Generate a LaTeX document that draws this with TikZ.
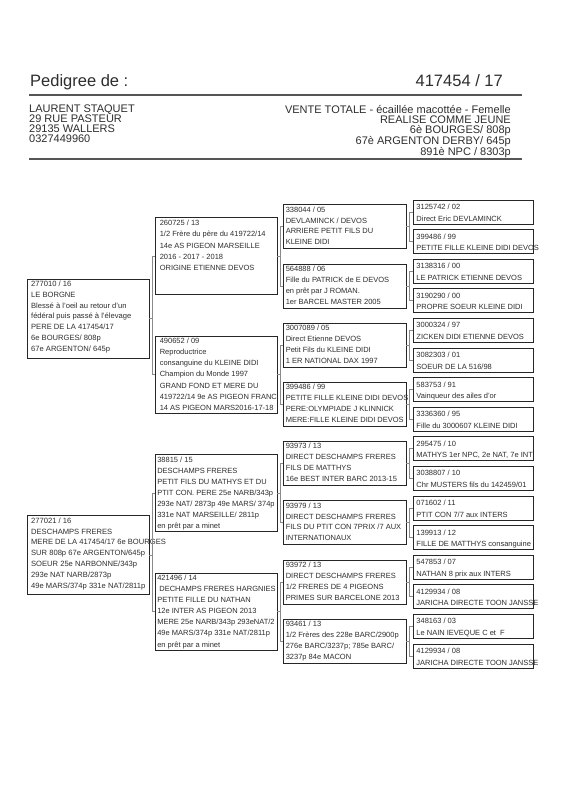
\documentclass[tikz,border=0pt]{standalone}
\usepackage{fontspec}
\setmainfont{Liberation Sans}
\definecolor{boxc}{HTML}{262626}
\definecolor{txtc}{HTML}{2E2E2E}
\definecolor{linkc}{HTML}{8A8A8A}
\definecolor{rulec}{HTML}{555555}
\tikzset{
  boxbase/.style={draw=boxc, line width=0.9pt, inner sep=0pt, rectangle},
  gone/.style={boxbase, minimum width=122pt, minimum height=79pt},
  gtwo/.style={boxbase, minimum width=122pt, minimum height=77pt},
  gthree/.style={boxbase, minimum width=123pt, minimum height=44pt},
  gfour/.style={boxbase, minimum width=120pt, minimum height=24pt},
  txt/.style={anchor=north west, inner sep=0pt, align=left, text=txtc},
  tone/.style={txt, font=\fontsize{7.6}{10.85}\selectfont},
  ttwo/.style={txt, font=\fontsize{7.5}{11.1}\selectfont},
  tthree/.style={txt, font=\fontsize{7.5}{10.9}\selectfont},
  tfour/.style={txt, font=\fontsize{7.5}{11.5}\selectfont},
  link/.style={draw=linkc, line width=1pt},
  hrule/.style={draw=rulec, line width=1.1pt},
  headtxt/.style={inner sep=0pt, text=txtc, font=\fontsize{11}{10}\selectfont},
  titletxt/.style={inner sep=0pt, text=txtc, font=\fontsize{16.5}{18}\selectfont},
}
\begin{document}
\begin{tikzpicture}[x=1pt,y=-1pt]
\useasboundingbox[fill=white] (0,0) rectangle (566,800);

% ---------- header ----------
\node[titletxt, anchor=base west] (title) at (30,86) {Pedigree de :};
\node[titletxt, anchor=base east] (ring) at (503,86) {417454 / 17};
\coordinate (ra) at (29,95); \coordinate (rb) at (522,95);
\coordinate (rc) at (29,159); \coordinate (rd) at (522,159);
\draw[hrule] (ra) -- (rb);
\draw[hrule] (rc) -- (rd);
\node[headtxt, anchor=north west, align=left] (owner) at (29,105.1)
  {LAURENT STAQUET\\29 RUE PASTEUR\\29135 WALLERS\\0327449960};
\node[headtxt, anchor=north east, align=right] (info) at (511,104.9)
  {VENTE TOTALE - écaillée macottée - Femelle\\REALISE COMME JEUNE\\6è BOURGES/ 808p\\67è ARGENTON DERBY/ 645p\\891è NPC / 8303p};

% ---------- generation 1 ----------
\node[gone] (a0) at (88,318.6) {};
\node[gone] (a1) at (88,555.4) {};
\node[tone] (a0t) at ([xshift=4.4pt,yshift=-2pt]a0.north west)
  {277010 / 16\\LE BORGNE\\Blessé à l'oeil au retour d'un\\fédéral puis passé à l'élevage\\PERE DE LA 417454/17\\6e BOURGES/ 808p\\67e ARGENTON/ 645p};
\node[tone] (a1t) at ([xshift=4.4pt,yshift=-2pt]a1.north west)
  {277021 / 16\\DESCHAMPS FRERES\\MERE DE LA 417454/17 6e BOURGES\\SUR 808p 67e ARGENTON/645p\\SOEUR 25e NARBONNE/343p\\293e NAT NARB/2873p\\49e MARS/374p 331e NAT/2811p};

% ---------- generation 2 ----------
\node[gtwo] (b0) at (216,256.4) {};
\node[gtwo] (b1) at (216,374.8) {};
\node[gtwo] (b2) at (216,493.2) {};
\node[gtwo] (b3) at (216,611.6) {};
\node[ttwo] (b0t) at ([xshift=5pt,yshift=-2.8pt]b0.north west)
  {260725 / 13\\1/2 Frère du père du 419722/14\\14e AS PIGEON MARSEILLE\\2016 - 2017 - 2018\\ORIGINE ETIENNE DEVOS};
\node[ttwo] (b1t) at ([xshift=5pt,yshift=-2.2pt]b1.north west)
  {490652 / 09\\Reproductrice\\consanguine du KLEINE DIDI\\Champion du Monde 1997\\GRAND FOND ET MERE DU\\419722/14 9e AS PIGEON FRANC\\14 AS PIGEON MARS2016-17-18};
\node[ttwo] (b2t) at ([xshift=2.5pt,yshift=-2.2pt]b2.north west)
  {38815 / 15\\DESCHAMPS FRERES\\PETIT FILS DU MATHYS ET DU\\PTIT CON. PERE 25e NARB/343p\\293e NAT/ 2873p 49e MARS/ 374p\\331e NAT MARSEILLE/ 2811p\\en prêt par a minet};
\node[ttwo] (b3t) at ([xshift=2.5pt,yshift=-2.2pt]b3.north west)
  {421496 / 14\\\ DECHAMPS FRERES HARGNIES\\PETITE FILLE DU NATHAN\\12e INTER AS PIGEON 2013\\MERE 25e NARB/343p 293eNAT/2\\49e MARS/374p 331e NAT/2811p\\en prêt par a minet};

% ---------- generation 3 ----------
\node[gthree] (c0) at (344.5,226.8) {};
\node[gthree] (c1) at (344.5,286.0) {};
\node[gthree] (c2) at (344.5,345.2) {};
\node[gthree] (c3) at (344.5,404.4) {};
\node[gthree] (c4) at (344.5,463.6) {};
\node[gthree] (c5) at (344.5,522.8) {};
\node[gthree] (c6) at (344.5,582.0) {};
\node[gthree] (c7) at (344.5,641.2) {};
\tikzset{threepos/.style={xshift=3pt,yshift=-2.2pt}}
\node[tthree] (c0t) at ([threepos]c0.north west)
  {338044 / 05\\DEVLAMINCK / DEVOS\\ARRIERE PETIT FILS DU\\KLEINE DIDI};
\node[tthree] (c1t) at ([threepos]c1.north west)
  {564888 / 06\\Fille du PATRICK de E DEVOS\\en prêt par J ROMAN.\\1er BARCEL MASTER 2005};
\node[tthree] (c2t) at ([threepos]c2.north west)
  {3007089 / 05\\Direct Etienne DEVOS\\Petit Fils du KLEINE DIDI\\1 ER NATIONAL DAX 1997};
\node[tthree] (c3t) at ([threepos]c3.north west)
  {399486 / 99\\PETITE FILLE KLEINE DIDI DEVOS\\PERE:OLYMPIADE J KLINNICK\\MERE:FILLE KLEINE DIDI DEVOS};
\node[tthree] (c4t) at ([threepos]c4.north west)
  {93973 / 13\\DIRECT DESCHAMPS FRERES\\FILS DE MATTHYS\\16e BEST INTER BARC 2013-15};
\node[tthree] (c5t) at ([threepos]c5.north west)
  {93979 / 13\\DIRECT DESCHAMPS FRERES\\FILS DU PTIT CON 7PRIX /7 AUX\\INTERNATIONAUX};
\node[tthree] (c6t) at ([threepos]c6.north west)
  {93972 / 13\\DIRECT DESCHAMPS FRERES\\1/2 FRERES DE 4 PIGEONS\\PRIMES SUR BARCELONE 2013};
\node[tthree] (c7t) at ([threepos]c7.north west)
  {93461 / 13\\1/2 Frères des 228e BARC/2900p\\276e BARC/3237p; 785e BARC/\\3237p 84e MACON};

% ---------- generation 4 ----------
\node[gfour] (d0) at (473,212.0) {};
\node[gfour] (d1) at (473,241.6) {};
\node[gfour] (d2) at (473,271.2) {};
\node[gfour] (d3) at (473,300.8) {};
\node[gfour] (d4) at (473,330.4) {};
\node[gfour] (d5) at (473,360.0) {};
\node[gfour] (d6) at (473,389.6) {};
\node[gfour] (d7) at (473,419.2) {};
\node[gfour] (d8) at (473,448.8) {};
\node[gfour] (d9) at (473,478.4) {};
\node[gfour] (d10) at (473,508.0) {};
\node[gfour] (d11) at (473,537.6) {};
\node[gfour] (d12) at (473,567.2) {};
\node[gfour] (d13) at (473,596.8) {};
\node[gfour] (d14) at (473,626.4) {};
\node[gfour] (d15) at (473,656.0) {};
\tikzset{fourpos/.style={xshift=3.7pt,yshift=-4.4pt}}
\node[tfour] (d0t) at ([fourpos]d0.north west) {3125742 / 02\\Direct Eric DEVLAMINCK};
\node[tfour] (d1t) at ([fourpos]d1.north west) {399486 / 99\\PETITE FILLE KLEINE DIDI DEVOS};
\node[tfour] (d2t) at ([fourpos]d2.north west) {3138316 / 00\\LE PATRICK ETIENNE DEVOS};
\node[tfour] (d3t) at ([fourpos]d3.north west) {3190290 / 00\\PROPRE SOEUR KLEINE DIDI};
\node[tfour] (d4t) at ([fourpos]d4.north west) {3000324 / 97\\ZICKEN DIDI ETIENNE DEVOS};
\node[tfour] (d5t) at ([fourpos]d5.north west) {3082303 / 01\\SOEUR DE LA 516/98};
\node[tfour] (d6t) at ([fourpos]d6.north west) {583753 / 91\\Vainqueur des ailes d'or};
\node[tfour] (d7t) at ([fourpos]d7.north west) {3336360 / 95\\Fille du 3000607 KLEINE DIDI};
\node[tfour] (d8t) at ([fourpos]d8.north west) {295475 / 10\\MATHYS 1er NPC, 2e NAT, 7e INT};
\node[tfour] (d9t) at ([fourpos]d9.north west) {3038807 / 10\\Chr MUSTERS fils du 142459/01};
\node[tfour] (d10t) at ([fourpos]d10.north west) {071602 / 11\\PTIT CON 7/7 aux INTERS};
\node[tfour] (d11t) at ([fourpos]d11.north west) {139913 / 12\\FILLE DE MATTHYS consanguine};
\node[tfour] (d12t) at ([fourpos]d12.north west) {547853 / 07\\NATHAN 8 prix aux INTERS};
\node[tfour] (d13t) at ([fourpos]d13.north west) {4129934 / 08\\JARICHA DIRECTE TOON JANSSE};
\node[tfour] (d14t) at ([fourpos]d14.north west) {348163 / 03\\Le NAIN IEVEQUE C et \ F};
\node[tfour] (d15t) at ([fourpos]d15.north west) {4129934 / 08\\JARICHA DIRECTE TOON JANSSE};

% ---------- connectors ----------
\foreach \p/\s/\t in {a0/b0/b1, a1/b2/b3, b0/c0/c1, b1/c2/c3, b2/c4/c5, b3/c6/c7,
    c0/d0/d1, c1/d2/d3, c2/d4/d5, c3/d6/d7, c4/d8/d9, c5/d10/d11, c6/d12/d13, c7/d14/d15}{
  \draw[link] (\p.east) -- ++(3.3,0) |- (\s.west);
  \draw[link] (\p.east) -- ++(3.3,0) |- (\t.west);
}
\end{tikzpicture}
\end{document}
